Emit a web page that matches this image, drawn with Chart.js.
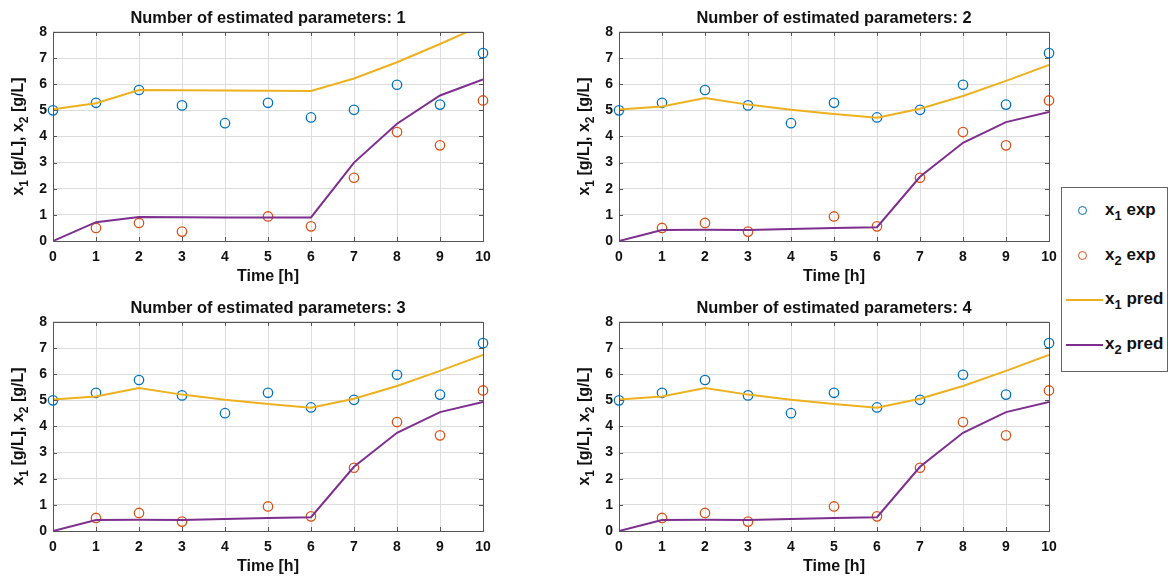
<!DOCTYPE html>
<html>
<head>
<meta charset="utf-8">
<script src="https://cdn.jsdelivr.net/npm/chart.js@4.4.1/dist/chart.umd.min.js"></script>
<style>
  body { margin: 0; background: #fff; width: 1168px; height: 580px; position: relative; overflow: hidden;
         font-family: 'Liberation Sans', Arial, Helvetica, sans-serif; }
  .panel { position: absolute; }
  #legend { position: absolute; left: 1061px; top: 187px; width: 105px; height: 183px;
            border: 1px solid #666; background: #fff; }
  .item { position: absolute; left: 0; height: 20px; width: 105px; }
  .mk { position: absolute; left: 16px; top: 5px; width: 7px; height: 7px; border: 1.3px solid; border-radius: 50%; }
  .ln { position: absolute; left: 4px; top: 9px; width: 37px; height: 2px; }
  .lbl { position: absolute; left: 43px; top: -1px; font-weight: bold; font-size: 17px; color: #111; white-space: nowrap; line-height: 20px; }
  .lbl sub { font-size: 13px; vertical-align: -5px; line-height: 0; }
</style>
</head>
<body>
<canvas class="panel" id="p1" width="566" height="290" style="left:0;top:0"></canvas>
<canvas class="panel" id="p2" width="566" height="290" style="left:566px;top:0"></canvas>
<canvas class="panel" id="p3" width="566" height="290" style="left:0;top:290px"></canvas>
<canvas class="panel" id="p4" width="566" height="290" style="left:566px;top:290px"></canvas>
<div id="legend"></div>
<script>
// ── Colores estilo MATLAB ─────────────────────────────────────────────
const C_BLUE   = "#0072BD";
const C_ORANGE = "#D95319";
const C_YELLOW = "#EDB120";
const C_PURPLE = "#7E2F8E";
const C_GRID   = "#dddddd";
const C_FRAME  = "#555555";
const C_TEXT   = "#111111";
const FUENTE   = "'Liberation Sans', Arial, Helvetica, sans-serif";

// ── Datos ─────────────────────────────────────────────────────────────
const tiempo = [0, 1, 2, 3, 4, 5, 6, 7, 8, 9, 10];
const xTicks = [0, 1, 2, 3, 4, 5, 6, 7, 8, 9, 10];
const yTicks = [0, 1, 2, 3, 4, 5, 6, 7, 8];

// mediciones (iguales en los 4 paneles)
const x1Exp = [5.00, 5.29, 5.78, 5.19, 4.51, 5.29, 4.73, 5.02, 5.98, 5.22, 7.19];
const x2Exp = [null, 0.50, 0.69, 0.36, null, 0.94, 0.56, 2.42, 4.17, 3.66, 5.38];

// predicciones por número de parámetros estimados
const pred1X1 = [5.04, 5.27, 5.78, 5.77, 5.76, 5.75, 5.74, 6.22, 6.84, 7.54, 8.27];
const pred1X2 = [0.00, 0.72, 0.92, 0.91, 0.90, 0.90, 0.90, 3.00, 4.49, 5.57, 6.18];
const pred2X1 = [5.03, 5.15, 5.47, 5.22, 5.02, 4.86, 4.72, 5.06, 5.55, 6.13, 6.74];
const pred2X2 = [0.00, 0.42, 0.43, 0.42, 0.46, 0.50, 0.53, 2.46, 3.76, 4.55, 4.94];
const pred3X1 = [5.03, 5.15, 5.47, 5.22, 5.02, 4.86, 4.72, 5.06, 5.55, 6.13, 6.74];
const pred3X2 = [0.00, 0.42, 0.43, 0.42, 0.46, 0.50, 0.53, 2.46, 3.76, 4.55, 4.94];
const pred4X1 = [5.03, 5.15, 5.47, 5.22, 5.02, 4.86, 4.72, 5.06, 5.55, 6.13, 6.74];
const pred4X2 = [0.00, 0.42, 0.43, 0.42, 0.46, 0.50, 0.53, 2.46, 3.76, 4.55, 4.94];

const titulos = ["Number of estimated parameters: 1", "Number of estimated parameters: 2",
                 "Number of estimated parameters: 3", "Number of estimated parameters: 4"];
const ejeX    = "Time [h]";
// eje Y por partes: [texto, es subíndice]
const ejeY    = [["x", false], ["1", true], [" [g/L], x", false], ["2", true], [" [g/L]", false]];
const leyenda = [["x", "1", " exp"], ["x", "2", " exp"], ["x", "1", " pred"], ["x", "2", " pred"]];

// ── Config global ─────────────────────────────────────────────────────
Chart.defaults.font.family = FUENTE;
Chart.defaults.font.weight = "bold";
Chart.defaults.color = C_TEXT;

function pts(ys) {
  return tiempo.map((t, i) => ({ x: t, y: ys[i] })).filter(p => p.y != null);
}

// marco + ticks hacia adentro (estilo MATLAB) + título del eje Y con subíndices
const marco = {
  id: "marco",
  afterDraw(chart) {
    const { ctx, chartArea: a, scales } = chart;
    ctx.save();
    ctx.strokeStyle = C_FRAME;
    ctx.lineWidth = 1;
    ctx.beginPath();
    xTicks.forEach(v => {
      const px = Math.round(scales.x.getPixelForValue(v)) + 0.5;
      ctx.moveTo(px, a.bottom); ctx.lineTo(px, a.bottom - 4);
      ctx.moveTo(px, a.top);    ctx.lineTo(px, a.top + 4);
    });
    yTicks.forEach(v => {
      const py = Math.round(scales.y.getPixelForValue(v)) + 0.5;
      ctx.moveTo(a.left, py);  ctx.lineTo(a.left + 4, py);
      ctx.moveTo(a.right, py); ctx.lineTo(a.right - 4, py);
    });
    ctx.stroke();
    ctx.strokeRect(Math.round(a.left) + 0.5, Math.round(a.top) + 0.5,
                   Math.round(a.right - a.left), Math.round(a.bottom - a.top));

    // título eje Y
    const fMain = `bold 16px ${FUENTE}`, fSub = `bold 12px ${FUENTE}`;
    let total = 0;
    ejeY.forEach(([txt, sub]) => { ctx.font = sub ? fSub : fMain; total += ctx.measureText(txt).width; });
    ctx.translate(19, (a.top + a.bottom) / 2);
    ctx.rotate(-Math.PI / 2);
    ctx.fillStyle = C_TEXT;
    ctx.textBaseline = "middle";
    ctx.textAlign = "left";
    let x = -total / 2;
    ejeY.forEach(([txt, sub]) => {
      ctx.font = sub ? fSub : fMain;
      ctx.fillText(txt, x, sub ? 6 : 0);
      x += ctx.measureText(txt).width;
    });
    ctx.restore();
  }
};

function crearPanel(id, titulo, pX1, pX2) {
  return new Chart(document.getElementById(id), {
    type: "scatter",
    data: {
      datasets: [
        { label: "x1 pred", data: pts(pX1), showLine: true, borderColor: C_YELLOW, borderWidth: 2,
          pointRadius: 0, tension: 0 },
        { label: "x2 pred", data: pts(pX2), showLine: true, borderColor: C_PURPLE, borderWidth: 2,
          pointRadius: 0, tension: 0 },
        { label: "x1 exp", data: pts(x1Exp), pointStyle: "circle", pointRadius: 4.7, pointBorderWidth: 1.3,
          pointBorderColor: C_BLUE, pointBackgroundColor: "transparent", clip: false },
        { label: "x2 exp", data: pts(x2Exp), pointStyle: "circle", pointRadius: 4.7, pointBorderWidth: 1.3,
          pointBorderColor: C_ORANGE, pointBackgroundColor: "transparent", clip: false },
      ],
    },
    options: {
      responsive: false, animation: false, events: [],
      layout: { padding: { left: 0, right: 83, top: 0, bottom: 0 } },
      plugins: {
        legend: { display: false }, tooltip: { enabled: false },
        title: { display: true, text: titulo, color: C_TEXT, fullSize: false,
                 font: { size: 16.4, weight: "bold" }, padding: { top: 8.2, bottom: 4.1 } },
      },
      scales: {
        x: {
          type: "linear", min: 0, max: 10,
          afterBuildTicks: s => { s.ticks = xTicks.map(v => ({ value: v })); },
          ticks: { padding: 8, font: { size: 14 }, color: C_TEXT },
          grid: { color: C_GRID, drawTicks: false },
          border: { display: false },
          title: { display: true, text: ejeX, font: { size: 16, weight: "bold" }, color: C_TEXT,
                   padding: { top: 0, bottom: 3.4 } },
          afterFit: s => { s.height = 49; },
        },
        y: {
          min: 0, max: 8,
          afterBuildTicks: s => { s.ticks = yTicks.map(v => ({ value: v })); },
          ticks: { padding: 6, font: { size: 14 }, color: C_TEXT },
          grid: { color: C_GRID, drawTicks: false },
          border: { display: false },
          afterFit: s => { s.width = 53; },
        },
      },
    },
    plugins: [marco],
  });
}

crearPanel("p1", titulos[0], pred1X1, pred1X2);
crearPanel("p2", titulos[1], pred2X1, pred2X2);
crearPanel("p3", titulos[2], pred3X1, pred3X2);
crearPanel("p4", titulos[3], pred4X1, pred4X2);

// ── Leyenda compartida ────────────────────────────────────────────────
const colLeyenda = [C_BLUE, C_ORANGE, C_YELLOW, C_PURPLE];
const topLeyenda = [13, 58, 102, 147];
document.getElementById("legend").innerHTML = leyenda.map((l, i) => {
  const simbolo = i < 2
    ? `<span class="mk" style="border-color:${colLeyenda[i]}"></span>`
    : `<span class="ln" style="background:${colLeyenda[i]}"></span>`;
  return `<div class="item" style="top:${topLeyenda[i]}px">${simbolo}<span class="lbl">${l[0]}<sub>${l[1]}</sub>${l[2]}</span></div>`;
}).join("");
</script>
</body>
</html>
